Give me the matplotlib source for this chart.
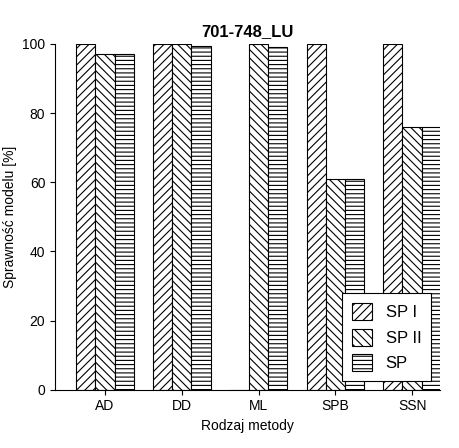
import matplotlib
matplotlib.use("Agg")
import matplotlib.pyplot as plt
import numpy as np

plt.rcParams['hatch.linewidth'] = 0.8
plt.rcParams['font.family'] = ['Liberation Sans', 'DejaVu Sans']

categories = ["AD", "DD", "ML", "SPB", "SSN"]
sp1 = [100, 100, 0, 100, 100]
sp2 = [97, 100, 100, 61, 76]
sp = [97, 99.5, 99, 61, 76]

fig = plt.figure(figsize=(4.59, 4.48), dpi=100)
ax = fig.add_axes([0.12, 0.13, 0.838, 0.772])

x = np.arange(len(categories))
w = 0.25
ax.bar(x - w, sp1, w, facecolor="white", edgecolor="black", hatch="////", linewidth=0.8, label="SP I")
ax.bar(x, sp2, w, facecolor="white", edgecolor="black", hatch="\\\\\\\\", linewidth=0.8, label="SP II")
ax.bar(x + w, sp, w, facecolor="white", edgecolor="black", hatch="----", linewidth=0.8, label="SP")

ax.set_xlim(-0.65, 4.36)
ax.set_ylim(0, 100)
ax.set_yticks([0, 20, 40, 60, 80, 100])
ax.set_xticks(x)
ax.set_xticklabels(categories)
ax.tick_params(labelsize=10)
ax.spines['top'].set_visible(False)
ax.spines['right'].set_visible(False)
ax.set_title("701-748_LU", fontweight="bold", fontsize=12)
ax.set_xlabel("Rodzaj metody", fontsize=10)
ax.set_ylabel("Sprawność modelu [%]", fontsize=10)

leg = ax.legend(loc="lower right", fontsize=12, fancybox=False, edgecolor="black",
                handlelength=1.2, handleheight=1.2, borderpad=0.6, framealpha=1,
                bbox_to_anchor=(1.0, 0.0))
leg.get_frame().set_linewidth(0.8)

fig.savefig("out.png", dpi=100)
